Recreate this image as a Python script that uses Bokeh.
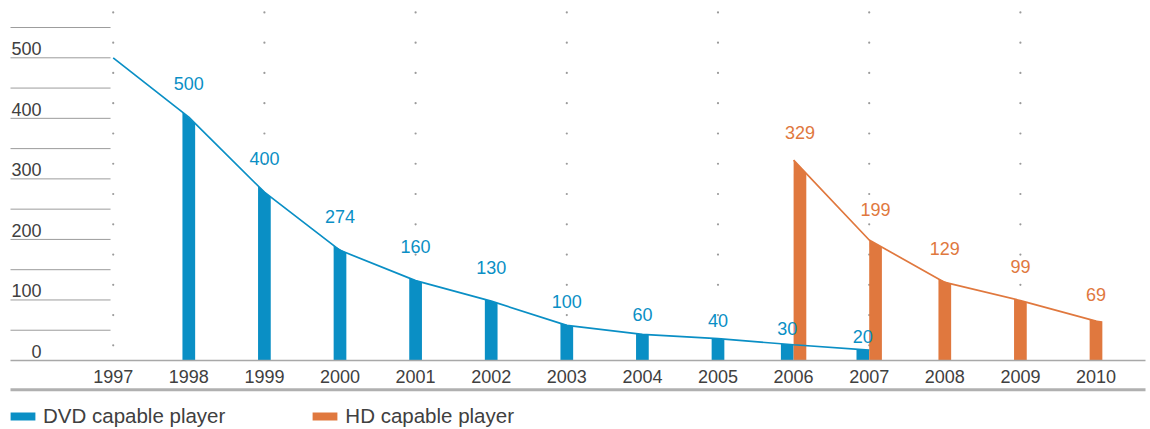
import numpy as np
from bokeh.plotting import figure
from bokeh.models import Range1d, Legend, LegendItem
from bokeh.core.properties import value
from bokeh.embed import file_html
from bokeh.resources import INLINE

# ---------------- data ----------------
years = list(range(1997, 2011))
year_labels = [str(y) for y in years]

dvd_years = [1997, 1998, 1999, 2000, 2001, 2002, 2003, 2004, 2005, 2006, 2007]
dvd_values = [500, 402, 278, 182, 132, 98, 58, 43, 36, 26, 17]
dvd_bar_years = [1998, 1999, 2000, 2001, 2002, 2003, 2004, 2005, 2006, 2007]
dvd_labels = ["500", "400", "274", "160", "130", "100", "60", "40", "30", "20"]

hd_years = [2006, 2007, 2008, 2009, 2010]
hd_values = [331, 199, 129, 99, 65]
hd_labels = ["329", "199", "129", "99", "69"]

y_tick_values = [0, 100, 200, 300, 400, 500]
y_tick_labels = ["0", "100", "200", "300", "400", "500"]
grid_values = [50, 100, 150, 200, 250, 300, 350, 400, 450, 500, 550]

series_names = ["DVD capable player", "HD capable player"]

# ---------------- style ----------------
BLUE = "#0a8fc5"
ORANGE = "#e0783e"
TEXT = "#404040"
GRID = "#9c9c9c"
FONT = "Liberation Sans"
BAR_W = 0.168          # bar width in year units
PX = 0.6054            # pixels per value unit
XPX = 75.6             # pixels per year
first = years[0]
X0, X1 = first - 112.7 / XPX, first + (1150 - 112.7) / XPX
Y0, Y1 = -69 / PX, 360 / PX
L0, L1 = first - 102.7 / XPX, first + (1145 - 112.7) / XPX   # extent of the rules

p = figure(width=1150, height=429, output_backend="svg", toolbar_location=None,
           x_range=Range1d(X0, X1), y_range=Range1d(Y0, Y1),
           x_axis_location=None, y_axis_location=None,
           min_border_left=0, min_border_right=0, min_border_top=0, min_border_bottom=0,
           outline_line_color=None)
p.xgrid.visible = False
p.ygrid.visible = False

# short horizontal grid lines on the left
p.segment(x0=[L0] * len(grid_values), x1=[first - 0.035] * len(grid_values),
          y0=grid_values, y1=grid_values, line_color=GRID, line_width=1)

# y labels (sitting just above their grid lines)
p.text(x=[first - 0.948] * len(y_tick_values), y=y_tick_values, text=y_tick_labels,
       text_font=value(FONT), text_font_size="18px", text_color=TEXT,
       text_align="right", text_baseline="middle", y_offset=-9)

# dotted vertical guides at odd years
odd = [y for y in years if (y - first) % 2 == 0 and y < years[-1]]
dot_levels = np.arange(25, 580, 50)
dx, dy = np.meshgrid(odd, dot_levels)
p.scatter(x=dx.ravel(), y=dy.ravel(), size=2.2, marker="circle",
          fill_color="#9a9a9a", line_color=None)


def shift(yr, own, other):
    if yr in other:
        return -BAR_W / 2 if own == "dvd" else BAR_W / 2
    return 0.0


def bars(bar_years, lx, ly, own, other):
    xs, ys, cx, cy = [], [], [], []
    for yr in bar_years:
        c = yr + shift(yr, own, other)
        a, b = c - BAR_W / 2, c + BAR_W / 2
        t0, t1 = np.interp([a, b], lx, ly)
        xs.append([a, b, b, a])
        ys.append([0, 0, float(t1), float(t0)])
        cx.append(c)
        cy.append(float(np.interp(c, lx, ly)))
    return xs, ys, cx, cy


dxs, dys, dcx, dcy = bars(dvd_bar_years, dvd_years, dvd_values, "dvd", hd_years)
hxs, hys, hcx, hcy = bars(hd_years, hd_years, hd_values, "hd", dvd_bar_years)

r_dvd = p.patches(xs=dxs, ys=dys, fill_color=BLUE, line_color=None)
r_hd = p.patches(xs=hxs, ys=hys, fill_color=ORANGE, line_color=None)

p.line(x=dvd_years, y=dvd_values, line_color=BLUE, line_width=1.7)
p.line(x=hd_years, y=hd_values, line_color=ORANGE, line_width=1.7)


def gaps(vals):
    return [-(min(34.0, 8 + 0.28 * v)) for v in vals]


p.text(x=dcx, y=dcy, text=dvd_labels, y_offset=gaps(dcy), text_font=value(FONT),
       text_font_size="18px", text_color=BLUE, text_align="center", text_baseline="middle")
p.text(x=hcx, y=hcy, text=hd_labels, y_offset=gaps(hcy), text_font=value(FONT),
       text_font_size="18px", text_color=ORANGE, text_align="center", text_baseline="middle")

# baseline and the thicker rule under the year labels
p.segment(x0=[L0], x1=[L1], y0=[0], y1=[0], line_color="#a8a8a8", line_width=1.5)
p.segment(x0=[L0], x1=[L1], y0=[-29.3 / PX], y1=[-29.3 / PX], line_color="#b0b0b0", line_width=3)

# year labels
p.text(x=years, y=[0] * len(years), text=year_labels, y_offset=16,
       text_font=value(FONT), text_font_size="18px", text_color=TEXT,
       text_align="center", text_baseline="middle")

legend = Legend(items=[LegendItem(label=series_names[0], renderers=[r_dvd]),
                       LegendItem(label=series_names[1], renderers=[r_hd])],
                orientation="horizontal", location=(7, 1), glyph_width=31, glyph_height=10,
                label_standoff=5, spacing=84, padding=0, margin=0, border_line_color=None,
                background_fill_alpha=0, label_text_font=FONT, label_text_font_size="20.5px",
                label_text_color=TEXT)
p.add_layout(legend)

open("out.html", "w").write(file_html(p, INLINE))
